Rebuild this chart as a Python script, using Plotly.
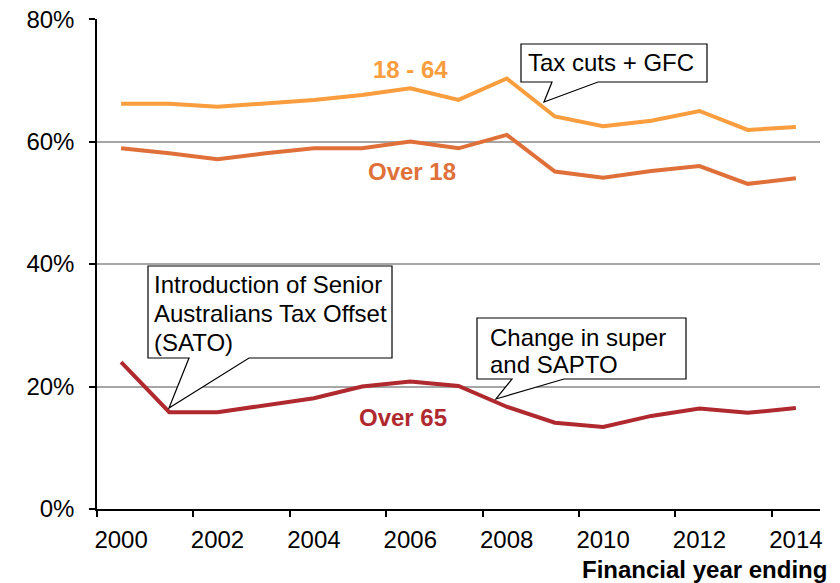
import plotly.graph_objects as go

years = list(range(2000, 2015))
age_18_64 = [66.2, 66.2, 65.7, 66.2, 66.8, 67.6, 68.7, 66.8, 70.3, 64.1, 62.5, 63.4, 65.0, 61.9, 62.4]
over_18 = [58.9, 58.1, 57.1, 58.1, 58.9, 58.9, 60.0, 58.9, 61.1, 55.1, 54.1, 55.2, 56.0, 53.1, 54.0]
over_65 = [24.0, 15.8, 15.8, 16.9, 18.1, 20.0, 20.8, 20.1, 16.7, 14.1, 13.4, 15.2, 16.4, 15.7, 16.5]

series_names = ["18 - 64", "Over 18", "Over 65"]
series_colors = ["#F99D3E", "#E0703A", "#B0292F"]
y_ticks = [0, 20, 40, 60, 80]
x_ticks = [2000, 2002, 2004, 2006, 2008, 2010, 2012, 2014]

FONT = "Liberation Sans, Arial, sans-serif"
FS = 24
W, H = 840, 583
OFF = 8  # page body offset
# target plot area in window pixels
PX0, PX1, PY0, PY1 = 97, 820, 19, 509
L, T = PX0 - OFF, PY0 - OFF
R, B = W - (PX1 - OFF), H - (PY1 - OFF)
XMIN, XMAX = 1999.5, 2014.5
YMIN, YMAX = 0, 80.02


def px(xp):
    return XMIN + (xp - PX0) / (PX1 - PX0) * (XMAX - XMIN)


def py(yp):
    return YMIN + (PY1 - yp) / (PY1 - PY0) * (YMAX - YMIN)


def poly(points):
    return "M " + " L ".join("%f,%f" % (px(a), py(b)) for a, b in points) + " Z"


fig = go.Figure()
for name, vals, col in zip(series_names, [age_18_64, over_18, over_65], series_colors):
    fig.add_trace(go.Scatter(x=years, y=vals, mode="lines", name=name,
                             line=dict(color=col, width=4), showlegend=False))

# series labels
label_pos = [(410, 69), (412, 171), (403, 417)]
for name, col, (xp, yp) in zip(series_names, series_colors, label_pos):
    fig.add_annotation(x=px(xp), y=py(yp), text="<b>%s</b>" % name, showarrow=False,
                       xanchor="center", yanchor="middle",
                       font=dict(family=FONT, size=FS, color=col))

callouts = [
    dict(box=(521, 44, 707, 82), tail=((598, 82), (544, 102), (552, 82)),
         lines=[("Tax cuts + GFC", 526, 62)]),
    dict(box=(148, 266, 392, 358), tail=((249, 358), (169, 408), (189, 358)),
         lines=[("Introduction of Senior", 152, 284),
                ("Australians Tax Offset", 152, 313),
                ("(SATO)", 152, 342)]),
    dict(box=(477, 318, 686, 379), tail=((564, 379), (496, 399), (512, 379)),
         lines=[("Change in super", 488, 337), ("and SAPTO", 488, 364)]),
]

for c in callouts:
    x0, y0, x1, y1 = c["box"]
    b, tip, a = c["tail"]
    pts = [(x0, y0), (x1, y0), (x1, y1), b, tip, a, (x0, y1)]
    fig.add_shape(type="path", path=poly(pts), xref="x", yref="y",
                  line=dict(color="black", width=1.2), fillcolor="white", layer="above")
    for txt, xp, yp in c["lines"]:
        fig.add_annotation(x=px(xp), y=py(yp), text=txt, showarrow=False,
                           xanchor="left", yanchor="middle",
                           font=dict(family=FONT, size=FS, color="black"))

# axis title
fig.add_annotation(x=(829 - PX0) / (PX1 - PX0), y=(PY1 - 569) / (PY1 - PY0),
                   xref="paper", yref="paper", text="<b>Financial year ending</b>",
                   showarrow=False, xanchor="right", yanchor="middle",
                   font=dict(family=FONT, size=FS, color="black"))

fig.update_layout(
    width=W, height=H, autosize=False,
    margin=dict(l=L, r=R, t=T, b=B, pad=0),
    paper_bgcolor="white", plot_bgcolor="white",
    font=dict(family=FONT, size=FS, color="black"),
    xaxis=dict(range=[XMIN, XMAX], tickmode="array", tickvals=x_ticks,
               ticktext=[str(v) for v in x_ticks], ticks="", showgrid=False,
               showline=True, linecolor="black", linewidth=1.5, zeroline=False,
               ticklabelstandoff=8, automargin=False,
               minor=dict(tick0=1999.5, dtick=2, ticks="outside", ticklen=6,
                          tickcolor="black", tickwidth=1.5, showgrid=False),
               tickfont=dict(family=FONT, size=FS, color="black")),
    yaxis=dict(range=[YMIN, YMAX], tickmode="array", tickvals=y_ticks,
               ticktext=["%d%%" % v for v in y_ticks], ticks="outside", ticklen=6,
               tickcolor="black", tickwidth=1.5, showgrid=True, gridcolor="#A6A6A6",
               gridwidth=1.5, showline=True, linecolor="black", linewidth=1.5,
               zeroline=False, ticklabelstandoff=10, automargin=False,
               ticklabeloverflow="allow",
               tickfont=dict(family=FONT, size=FS, color="black")),
)

fig.write_html("out.html")
